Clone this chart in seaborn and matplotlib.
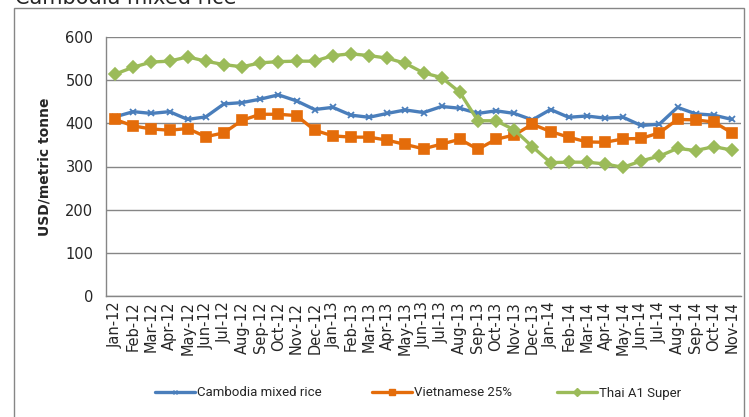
import matplotlib
matplotlib.use("Agg")
import matplotlib.pyplot as plt
import seaborn as sns
import pandas as pd
import numpy as np
from matplotlib.lines import Line2D

months = ["Jan-12","Feb-12","Mar-12","Apr-12","May-12","Jun-12","Jul-12","Aug-12","Sep-12","Oct-12","Nov-12","Dec-12",
          "Jan-13","Feb-13","Mar-13","Apr-13","May-13","Jun-13","Jul-13","Aug-13","Sep-13","Oct-13","Nov-13","Dec-13",
          "Jan-14","Feb-14","Mar-14","Apr-14","May-14","Jun-14","Jul-14","Aug-14","Sep-14","Oct-14","Nov-14"]

cambodia = [415, 427, 423, 427, 409, 415, 445, 448, 456, 466, 452, 432,
            437, 419, 414, 423, 431, 425, 439, 435, 423, 429, 423, 408,
            432, 414, 417, 412, 414, 395, 398, 437, 422, 419, 409]
vietnam = [409, 394, 387, 384, 388, 369, 378, 407, 421, 421, 418, 384,
           371, 368, 368, 361, 351, 341, 352, 363, 340, 363, 373, 398,
           381, 368, 357, 356, 364, 365, 378, 409, 408, 403, 378]
thai = [514, 530, 542, 544, 554, 544, 536, 531, 540, 543, 544, 544,
        557, 561, 557, 551, 539, 517, 506, 472, 406, 406, 385, 346,
        309, 310, 310, 306, 298, 313, 324, 342, 337, 346, 338]

series_names = ["Cambodia mixed rice", "Vietnamese 25%", "Thai A1 Super"]
colors = {"Cambodia mixed rice": "#4a7ebb", "Vietnamese 25%": "#e46c0a", "Thai A1 Super": "#9bbb59"}
markers = {"Cambodia mixed rice": "x", "Vietnamese 25%": "s", "Thai A1 Super": "D"}
msizes = {"Cambodia mixed rice": 5, "Vietnamese 25%": 7.5, "Thai A1 Super": 6}

idx = np.arange(len(months))
df = pd.concat([
    pd.DataFrame({"i": idx, "value": vals, "series": name})
    for name, vals in zip(series_names, [cambodia, vietnam, thai])
])

sns.set_style("white")
plt.rcParams['font.family'] = ['DejaVu Sans']

fig = plt.figure(figsize=(7.49, 4.17), dpi=100)
ax = fig.add_axes([106/749, 1-296/417, (741-106)/749, (296-37)/417])

for name in series_names:
    sub = df[df.series == name]
    sns.lineplot(data=sub, x="i", y="value", ax=ax, color=colors[name], linewidth=2.4,
                 marker=markers[name], markersize=msizes[name],
                 markeredgecolor=colors[name], markeredgewidth=1.2 if name != "Cambodia mixed rice" else 1.3,
                 legend=False, zorder=3)

ax.set_xlim(-0.5, len(months)-0.5)
ax.set_ylim(0, 600)
ax.set_yticks([0,100,200,300,400,500,600])
ax.set_yticklabels(["0","100","200","300","400","500","600"], fontsize=10.5)
ax.set_xticks(idx)
ax.set_xticklabels(months, rotation=90, fontsize=10.5)
ax.set_xticks(np.arange(-0.5, len(months), 1), minor=True)
ax.tick_params(axis='x', which='major', length=0, pad=4)
ax.tick_params(axis='x', which='minor', length=5, color='#868686', width=1, direction='out')
ax.tick_params(axis='y', which='major', length=5, color='#868686', width=1, direction='out', pad=4)
ax.grid(axis='y', color='#868686', linewidth=1)
ax.set_axisbelow(True)
for s in ['top', 'right']:
    ax.spines[s].set_visible(False)
for s in ['left', 'bottom']:
    ax.spines[s].set_color('#868686')
    ax.spines[s].set_linewidth(1)
ax.set_xlabel("")
ax.set_ylabel("USD/metric tonne", fontsize=10, fontweight='bold', labelpad=10)

# legend entries placed individually, like the reference
leg_x = [155, 372, 557]
for name, x0 in zip(series_names, leg_x):
    h = Line2D([0],[0], color=colors[name], linewidth=2.4, marker=markers[name], markersize=msizes[name]*0.65,
               markeredgecolor=colors[name])
    fig.legend([h], [name], loc='center left', bbox_to_anchor=(x0/749, 1-393/417),
               frameon=False, prop={'family': 'Roboto', 'size': 9.5}, handlelength=3.0,
               handletextpad=0.15, borderpad=0, borderaxespad=0)

fig.text(15/749, 1-4/417, "Cambodia mixed rice", fontsize=15, va='baseline', ha='left')

# outer chart border
fig.patches.append(plt.Rectangle((14/749, -0.01), (744-14)/749, 1-8/417+0.01, transform=fig.transFigure,
                                 fill=False, edgecolor='#868686', linewidth=1))

fig.savefig("out.png", dpi=100)
